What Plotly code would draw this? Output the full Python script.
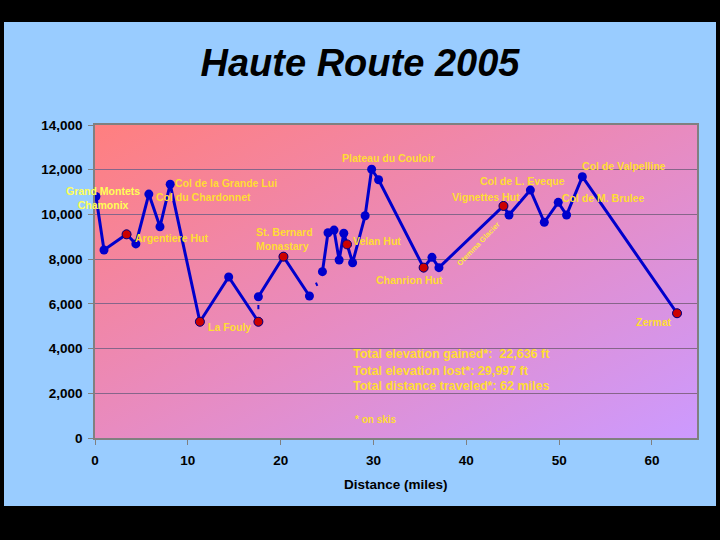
import base64
import plotly.graph_objects as go

# ---- data (miles, feet) ----
route_miles = [0.1, 0.97, 3.4, 4.4, 5.8, 7.0, 8.1, 11.3, 14.4, 17.6, None,
               17.6, 20.3, 23.1, None,
               24.5, 25.1, 25.75, 26.3, 26.8, 27.75, 29.1, 29.8, 30.55, 35.4, 36.3, 37.05,
               44.0, 44.6, 46.9, 48.4, 49.9, 50.8, 52.5, 62.7]
route_feet = [10800, 8410, 9110, 8680, 10910, 9450, 11350, 5200, 7200, 5200, None,
              6320, 8110, 6350, None,
              7440, 9180, 9300, 7960, 9160, 7840, 9940, 12020, 11550, 7620, 8080, 7620,
              10380, 9975, 11090, 9650, 10540, 9975, 11690, 5580]

fragment_miles = [17.6, 17.6, None, 23.8, 23.95]
fragment_feet = [5950, 5760, None, 6950, 6800]

hut_miles = [3.4, 11.3, 17.6, 20.3, 27.15, 35.4, 44.0, 62.7]
hut_feet = [9110, 5200, 5200, 8110, 8660, 7620, 10380, 5580]

y_ticks = [0, 2000, 4000, 6000, 8000, 10000, 12000, 14000]
x_ticks = [0, 10, 20, 30, 40, 50, 60]

place_names = ["Grand Montets<br>Chamonix", "Argentiere Hut", "Col du Chardonnet",
               "Col de la Grande Lui", "La Fouly", "St. Bernard<br>Monastary",
               "Plateau du Couloir", "Velan Hut", "Chanrion Hut", "Vignettes Hut",
               "Col de L. Eveque", "Col de M. Brulee", "Col de Valpelline", "Zermat"]
stats_lines = ["Total elevation gained*:  22,636 ft",
               "Total elevation lost*: 29,997 ft",
               "Total distance traveled*: 62 miles"]

FONT = "Liberation Sans, Arial, sans-serif"
GOLD = "#FFDD33"
LINE_BLUE = "#0000CC"

fig = go.Figure()
fig.add_trace(go.Scatter(x=fragment_miles, y=fragment_feet, mode="lines",
                         line=dict(color=LINE_BLUE, width=2), hoverinfo="skip"))
fig.add_trace(go.Scatter(x=route_miles, y=route_feet, mode="lines+markers",
                         line=dict(color=LINE_BLUE, width=3),
                         marker=dict(color=LINE_BLUE, size=9, line=dict(width=0))))
fig.add_trace(go.Scatter(x=hut_miles, y=hut_feet, mode="markers",
                         marker=dict(color="#CC0000", size=9,
                                     line=dict(color="#000080", width=1))))

# gradient plot background (SVG)
svg = ('<svg xmlns="http://www.w3.org/2000/svg" width="602" height="313" '
       'preserveAspectRatio="none" viewBox="0 0 602 313">'
       '<defs><linearGradient id="g" x1="0" y1="0" x2="1" y2="1">'
       '<stop offset="0" stop-color="#FF7F7F"/>'
       '<stop offset="0.5" stop-color="#E88BC0"/>'
       '<stop offset="1" stop-color="#CC9AFF"/>'
       '</linearGradient></defs>'
       '<rect width="602" height="313" fill="url(#g)"/></svg>')
svg_uri = "data:image/svg+xml;base64," + base64.b64encode(svg.encode()).decode()

annotations = []
label_pos = [
    (0.81, 10757, "center", "#FFFF55"),
    (8.24, 8946, "center", GOLD),
    (11.69, 10780, "center", GOLD),
    (14.06, 11406, "center", GOLD),
    (14.54, 4965, "center", GOLD),
    (17.13, 8879, "left", GOLD),
    (31.62, 12524, "center", GOLD),
    (30.38, 8812, "center", GOLD),
    (33.88, 7067, "center", GOLD),
    (42.17, 10780, "center", GOLD),
    (46.05, 11496, "center", GOLD),
    (54.72, 10735, "center", GOLD),
    (56.99, 12167, "center", GOLD),
    (60.27, 5189, "center", GOLD),
]
for name, (x, y, anchor, col) in zip(place_names, label_pos):
    annotations.append(dict(x=x, y=y, xref="x", yref="y", text="<b>" + name.replace("<br>", "</b><br><b>") + "</b>",
                            showarrow=False,
                            xanchor=anchor, yanchor="middle", align=anchor,
                            font=dict(family=FONT, size=10.5, color=col)))
annotations.append(dict(x=41.37, y=8678, xref="x", yref="y", text="<b>Otemma Glacier</b>",
                        showarrow=False, textangle=-46,
                        font=dict(family=FONT, size=7.5, color="#FFE544")))
for line, y in zip(stats_lines, [3757, 3010, 2326]):
    annotations.append(dict(x=27.55, y=y, xref="x", yref="y", text="<b>" + line + "</b>",
                            showarrow=False, xanchor="left", yanchor="middle",
                            font=dict(family=FONT, size=12.5, color=GOLD)))
annotations.append(dict(x=27.8, y=850, xref="x", yref="y", text="<b>* on skis</b>", showarrow=False,
                        xanchor="left", yanchor="middle",
                        font=dict(family=FONT, size=10, color=GOLD)))
annotations.append(dict(x=0.5, y=-0.150, xref="paper", yref="paper", text="<b>Distance (miles)</b>",
                        showarrow=False, xanchor="center", yanchor="middle",
                        font=dict(family=FONT, size=13.5, color="black")))

# black frame around the blue panel (pixel -> paper coords of plot area)
def px(xp):
    return (xp - 95) / 602.0

def py(yp):
    return (438 - yp) / 313.0

shapes = []
for x0, y0, x1, y1 in [(0, 0, 720, 22), (0, 506, 720, 540), (0, 0, 4, 540), (716, 0, 720, 540)]:
    shapes.append(dict(type="rect", xref="paper", yref="paper",
                       x0=px(x0), x1=px(x1), y0=py(y1), y1=py(y0),
                       fillcolor="black", line=dict(width=0), layer="below"))

fig.update_layout(
    width=720, height=540,
    margin=dict(l=95, r=23, t=125, b=102),
    paper_bgcolor="#99CCFF",
    plot_bgcolor="#E88BC0",
    showlegend=False,
    title=dict(text="Haute Route 2005", x=0.5, xref="container", xanchor="center",
               y=1 - 63 / 540, yref="container", yanchor="middle",
               font=dict(family=FONT, size=38, color="black", weight="bold", style="italic")),
    images=[dict(source=svg_uri, xref="paper", yref="paper", x=0, y=1, sizex=1, sizey=1,
                 sizing="stretch", xanchor="left", yanchor="top", layer="below")],
    annotations=annotations,
    shapes=shapes,
    xaxis=dict(range=[0, 64.85], tickvals=x_ticks, showgrid=False, zeroline=False,
               showline=True, linecolor="#808080", linewidth=1.5, mirror=True,
               ticks="outside", ticklen=5, tickcolor="#808080", ticklabelstandoff=4,
               tickfont=dict(family=FONT, size=13.5, color="black", weight="bold")),
    yaxis=dict(range=[0, 14000], tickvals=y_ticks, tickformat=",", showgrid=True,
               gridcolor="#86668A", gridwidth=1, zeroline=False,
               showline=True, linecolor="#808080", linewidth=1.5, mirror=True,
               ticks="outside", ticklen=5, tickcolor="#808080", ticklabelstandoff=3,
               tickfont=dict(family=FONT, size=13.5, color="black", weight="bold")),
)

fig.write_html("out.html")
